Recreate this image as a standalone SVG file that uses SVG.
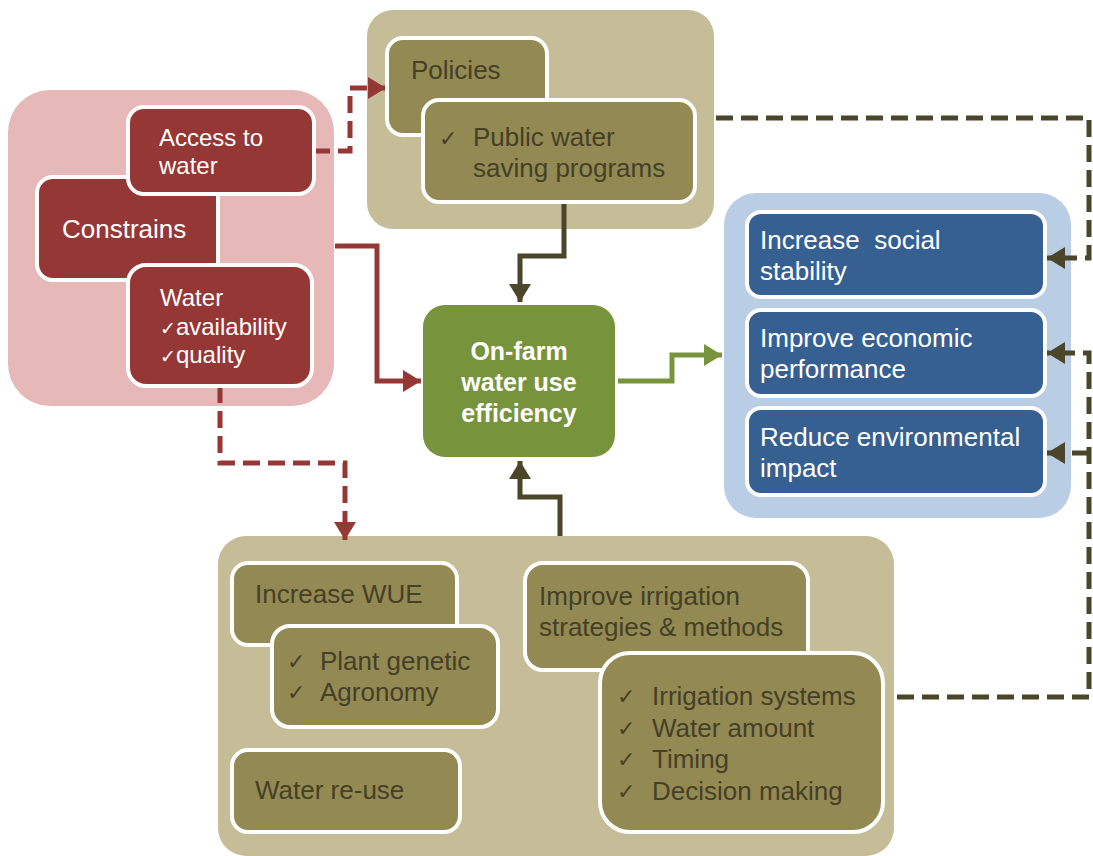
<svg xmlns="http://www.w3.org/2000/svg" width="1093" height="856" viewBox="0 0 1093 856">
  <defs>
    <style>
      .t { font-family: "Liberation Sans", Arial, "DejaVu Sans", sans-serif; font-size: 26px; }
      .s { font-size: 24px; }
      .w { fill: #ffffff; }
      .d { fill: #454026; }
      .b { font-weight: bold; font-size: 25px; }
      .ck { font-family: "DejaVu Sans", sans-serif; font-size: 22px; }
      .cks { font-family: "DejaVu Sans", sans-serif; font-size: 19px; }
      .inner { stroke: #ffffff; stroke-width: 4; }
      .red { fill: #953735; }
      .olive { fill: #938953; }
      .blue { fill: #376092; }
      .con { fill: none; stroke-width: 5; stroke-linejoin: miter; }
      .dash { stroke-dasharray: 17 8; }
    </style>
    <marker id="ahRed" markerUnits="userSpaceOnUse" markerWidth="20" markerHeight="22" refX="18" refY="11" orient="auto">
      <path d="M0,0 L18,11 L0,22 Z" fill="#953735"/>
    </marker>
    <marker id="ahDark" markerUnits="userSpaceOnUse" markerWidth="20" markerHeight="22" refX="18" refY="11" orient="auto">
      <path d="M0,0 L18,11 L0,22 Z" fill="#4B4529"/>
    </marker>
    <marker id="ahGreen" markerUnits="userSpaceOnUse" markerWidth="20" markerHeight="22" refX="18" refY="11" orient="auto">
      <path d="M0,0 L18,11 L0,22 Z" fill="#77933C"/>
    </marker>
  </defs>

  <!-- container panels -->
  <rect x="8" y="90" width="326" height="316" rx="42" fill="#E6B9B8"/>
  <rect x="367" y="10" width="347" height="219" rx="26" fill="#C4BD97"/>
  <rect x="724" y="193" width="347" height="325" rx="32" fill="#B9CDE5"/>
  <rect x="218" y="536" width="676" height="320" rx="28" fill="#C4BD97"/>

  <!-- connectors -->
  <g id="connectors">
    <path class="con dash" stroke="#953735" d="M313,151 H350 V88 H386" marker-end="url(#ahRed)"/>
    <path class="con" stroke="#953735" d="M335,246 H377 V381 H421" marker-end="url(#ahRed)"/>
    <path class="con dash" stroke="#953735" d="M220,386 V463 H345 V540" marker-end="url(#ahRed)"/>
    <path class="con" stroke="#4B4529" d="M564,203 V256 H520 V302" marker-end="url(#ahDark)"/>
    <path class="con" stroke="#4B4529" d="M560,536 V497 H520 V461" marker-end="url(#ahDark)"/>
    <path class="con" stroke="#77933C" d="M618,381 H672 V355 H722" marker-end="url(#ahGreen)"/>
    <path class="con dash" stroke="#4B4529" d="M716,118 H1089 V258 H1047" marker-end="url(#ahDark)"/>
    <path class="con dash" stroke="#4B4529" d="M897,697 H1089 V353 H1047" marker-end="url(#ahDark)"/>
    <path class="con dash" stroke="#4B4529" d="M1089,453 H1047" marker-end="url(#ahDark)"/>
  </g>

  <!-- constraints -->
  <g id="constrains">
    <rect class="red inner" x="37" y="177" width="181" height="103" rx="16"/>
    <text class="t w" x="62" y="238">Constrains</text>
  </g>
  <g id="access-to-water">
    <rect class="red inner" x="128" y="107" width="186" height="87" rx="16"/>
    <text class="t s w" x="159" y="146">Access to</text>
    <text class="t s w" x="159" y="174">water</text>
  </g>
  <g id="water-quality">
    <rect class="red inner" x="128" y="265" width="184" height="121" rx="18"/>
    <text class="t s w" x="160" y="306">Water</text>
    <text class="t s w" x="160" y="335"><tspan class="cks">✓</tspan>availability</text>
    <text class="t s w" x="160" y="363"><tspan class="cks">✓</tspan>quality</text>
  </g>

  <!-- policies -->
  <g id="policies">
    <rect class="olive inner" x="387" y="38" width="160" height="97" rx="16"/>
    <text class="t d" x="411" y="79">Policies</text>
  </g>
  <g id="public-programs">
    <rect class="olive inner" x="423" y="100" width="272" height="102" rx="16"/>
    <text class="ck d" x="439" y="146">✓</text>
    <text class="t d" x="473" y="146">Public water</text>
    <text class="t d" x="473" y="177">saving programs</text>
  </g>

  <!-- central node -->
  <g id="on-farm-wue">
    <rect x="423" y="305" width="192" height="152" rx="22" fill="#77933C"/>
    <text class="t w b" x="519" y="360" text-anchor="middle">On-farm</text>
    <text class="t w b" x="519" y="391" text-anchor="middle">water use</text>
    <text class="t w b" x="519" y="422" text-anchor="middle">efficiency</text>
  </g>

  <!-- outcomes -->
  <g id="social-stability">
    <rect class="blue inner" x="747" y="212" width="298" height="85" rx="14"/>
    <text class="t w" x="760" y="249" xml:space="preserve">Increase  social</text>
    <text class="t w" x="760" y="280">stability</text>
  </g>
  <g id="economic-performance">
    <rect class="blue inner" x="747" y="310" width="298" height="86" rx="14"/>
    <text class="t w" x="760" y="347">Improve economic</text>
    <text class="t w" x="760" y="378">performance</text>
  </g>
  <g id="environmental-impact">
    <rect class="blue inner" x="747" y="408" width="298" height="87" rx="14"/>
    <text class="t w" x="760" y="446">Reduce environmental</text>
    <text class="t w" x="760" y="477">impact</text>
  </g>

  <!-- farm-level measures -->
  <g id="increase-wue">
    <rect class="olive inner" x="232" y="563" width="225" height="82" rx="16"/>
    <text class="t d" x="255" y="603">Increase WUE</text>
  </g>
  <g id="plant-agronomy">
    <rect class="olive inner" x="272" y="626" width="226" height="101" rx="18"/>
    <text class="ck d" x="287" y="669">✓</text>
    <text class="t d" x="320" y="670">Plant genetic</text>
    <text class="ck d" x="287" y="700">✓</text>
    <text class="t d" x="320" y="701">Agronomy</text>
  </g>
  <g id="water-reuse">
    <rect class="olive inner" x="232" y="750" width="228" height="82" rx="16"/>
    <text class="t d" x="255" y="799">Water re-use</text>
  </g>
  <g id="irrigation-strategies">
    <rect class="olive inner" x="525" y="563" width="283" height="107" rx="18"/>
    <text class="t d" x="539" y="605">Improve irrigation</text>
    <text class="t d" x="539" y="636">strategies &amp; methods</text>
  </g>
  <g id="irrigation-items">
    <rect class="olive inner" x="600" y="653" width="283" height="179" rx="30"/>
    <text class="ck d" x="617" y="704">✓</text>
    <text class="t d" x="652" y="705">Irrigation systems</text>
    <text class="ck d" x="617" y="736">✓</text>
    <text class="t d" x="652" y="737">Water amount</text>
    <text class="ck d" x="617" y="767">✓</text>
    <text class="t d" x="652" y="768">Timing</text>
    <text class="ck d" x="617" y="799">✓</text>
    <text class="t d" x="652" y="800">Decision making</text>
  </g>
</svg>
